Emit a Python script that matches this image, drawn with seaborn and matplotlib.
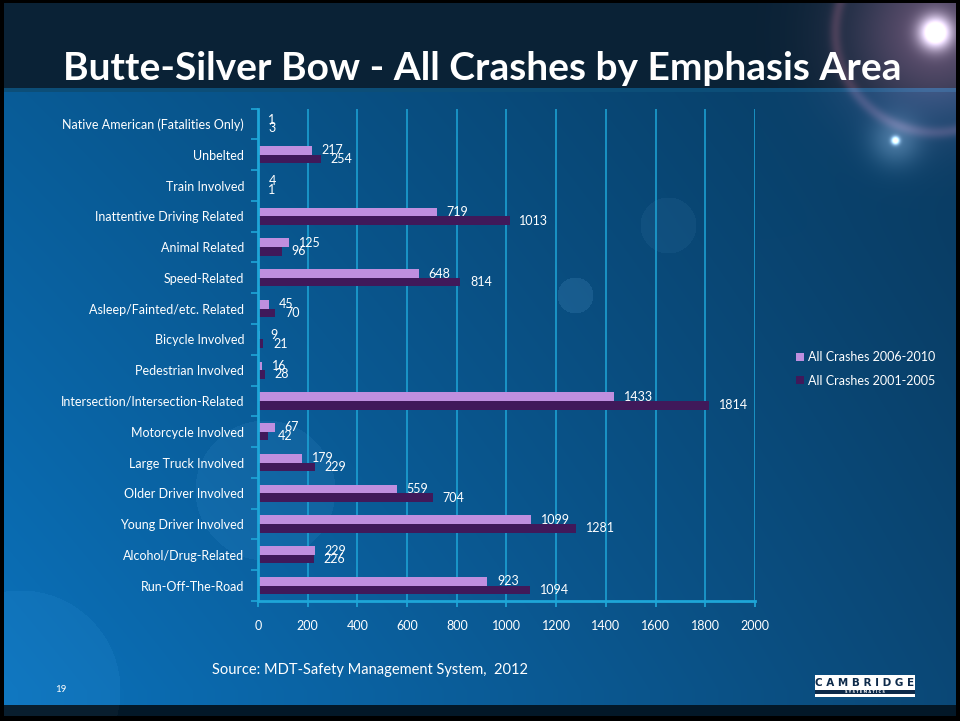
import matplotlib
matplotlib.use("Agg")
import matplotlib.pyplot as plt
import numpy as np
import pandas as pd
import seaborn as sns
from matplotlib.patches import Patch, Rectangle

categories = [
    "Native American (Fatalities Only)",
    "Unbelted",
    "Train Involved",
    "Inattentive Driving Related",
    "Animal Related",
    "Speed-Related",
    "Asleep/Fainted/etc. Related",
    "Bicycle Involved",
    "Pedestrian Involved",
    "Intersection/Intersection-Related",
    "Motorcycle Involved",
    "Large Truck Involved",
    "Older Driver Involved",
    "Young Driver Involved",
    "Alcohol/Drug-Related",
    "Run-Off-The-Road",
]
crashes_2006_2010 = [1, 217, 4, 719, 125, 648, 45, 9, 16, 1433, 67, 179, 559, 1099, 229, 923]
crashes_2001_2005 = [3, 254, 1, 1013, 96, 814, 70, 21, 28, 1814, 42, 229, 704, 1281, 226, 1094]
series_names = ["All Crashes 2006-2010", "All Crashes 2001-2005"]
x_ticks = [0, 200, 400, 600, 800, 1000, 1200, 1400, 1600, 1800, 2000]

df = pd.DataFrame({
    "area": categories * 2,
    "count": crashes_2006_2010 + crashes_2001_2005,
    "period": [series_names[0]] * len(categories) + [series_names[1]] * len(categories),
})

sns.set_theme(style="white")
plt.rcParams["font.family"] = ["Lato", "DejaVu Sans"]

W, H = 960, 721
fig = plt.figure(figsize=(9.6, 7.21), dpi=100)

# slide background
yy, xx = np.mgrid[0:H, 0:W].astype(float)
img = np.zeros((H, W, 3))
left = np.array([0x0a, 0x6c, 0xb2]) / 255
right = np.array([0x0a, 0x44, 0x70]) / 255
t = (xx / W)[..., None]
img[:] = left * (1 - t) + right * t
vt = np.clip((yy - 90) / 600, 0, 1)[..., None]
img = img * (0.85 + 0.2 * vt)
top = np.array([0x0a, 0x22, 0x36]) / 255
img[yy < 88] = top
img[(yy >= 88) & (yy < 92)] = np.array([0x0c, 0x4e, 0x78]) / 255
img[yy >= 705] = np.array([0x03, 0x18, 0x28]) / 255
# lens flare
r = np.hypot(xx - 935, yy - 32)
img += (np.exp(-(r / 16) ** 2) * 1.0)[..., None] * np.array([1, 1, 1])
img += (np.exp(-(r / 85) ** 2) * 0.45)[..., None] * np.array([0.75, 0.4, 0.5])
ring = np.exp(-((r - 100) / 6) ** 2) * 0.2
img += ring[..., None] * np.array([0.8, 0.35, 0.4])
r2 = np.hypot(xx - 895, yy - 140)
img += (np.exp(-(r2 / 4) ** 2) * 0.9 + np.exp(-(r2 / 25) ** 2) * 0.2)[..., None]
# faint bubbles
for cx, cy, rad, a in [(575, 295, 18, 0.06), (668, 225, 28, 0.03), (265, 490, 70, 0.03), (20, 690, 100, 0.025)]:
    rr = np.hypot(xx - cx, yy - cy)
    img += ((rr < rad) * a)[..., None]
img = np.clip(img, 0, 1)
img[:3, :] = 0
img[-5:, :] = 0
img[:, :4] = 0
img[:, -4:] = 0

bg = fig.add_axes([0, 0, 1, 1], zorder=-10)
bg.imshow(img, aspect="auto", extent=[0, W, H, 0])
bg.set_xlim(0, W)
bg.set_ylim(H, 0)
bg.axis("off")

grid_c = "#1ea6d8"
light = "#bf8fdf"
dark = "#40195a"

ax = fig.add_axes([258 / W, 1 - 601 / H, (755 - 258) / W, (601 - 108.6) / H])
ax.set_facecolor("none")
sns.barplot(
    data=df, y="area", x="count", hue="period", order=categories,
    hue_order=series_names, palette=[light, dark], orient="h",
    width=0.56, saturation=1, legend=False, linewidth=0, ax=ax,
)
for cont in ax.containers:
    ax.bar_label(cont, padding=7, color="white", fontsize=9)

ax.set_xlim(0, 2000)
ax.set_xticks(x_ticks)
ax.set_ylim(len(categories) - 0.5, -0.5)
ax.set_xlabel("")
ax.set_ylabel("")
ax.xaxis.grid(True, color=grid_c, lw=1.1)
ax.set_axisbelow(True)
for s in ["top", "right"]:
    ax.spines[s].set_visible(False)
for s in ["left", "bottom"]:
    ax.spines[s].set_color(grid_c)
    ax.spines[s].set_linewidth(2)
ax.set_yticks(np.arange(-0.5, len(categories), 1), minor=True)
ax.tick_params(axis="y", which="major", length=0, colors="white", labelsize=9, pad=10)
ax.tick_params(axis="y", which="minor", length=5, color=grid_c, width=1.2, left=True)
ax.tick_params(axis="x", which="major", length=4, color=grid_c, colors="white", labelsize=9, pad=10, bottom=True)

handles = [Patch(facecolor=light, edgecolor="none"), Patch(facecolor=dark, edgecolor="none")]
fig.legend(handles, series_names, loc="center left", bbox_to_anchor=(785 / W, 1 - 369 / H),
           frameon=False, fontsize=9, labelcolor="white", handlelength=0.6, handleheight=0.6,
           handletextpad=0.3, labelspacing=0.9)

fig.text(482 / W, 1 - 68 / H, "Butte-Silver Bow - All Crashes by Emphasis Area",
         ha="center", va="center", color="white", fontsize=28, fontweight="bold")
fig.text(212 / W, 1 - 670 / H, "Source: MDT-Safety Management System,  2012",
         ha="left", va="center", color="white", fontsize=10.5)
fig.text(55 / W, 1 - 689 / H, "19", ha="left", va="center", color="white", fontsize=7)

# company logo
bg.add_patch(Rectangle((815, 675), 100, 22, facecolor="white", edgecolor="none"))
bg.add_patch(Rectangle((815, 690), 100, 4, facecolor="#0d2a4a", edgecolor="none"))
bg.text(865, 682.5, "C A M B R I D G E", ha="center", va="center", color="#0d2a4a",
        fontsize=7.5, fontweight="bold", family="DejaVu Sans")
bg.text(865, 692, "S Y S T E M A T I C S", ha="center", va="center", color="white",
        fontsize=2.5, fontweight="bold", family="DejaVu Sans")

fig.savefig("out.png", dpi=100)
